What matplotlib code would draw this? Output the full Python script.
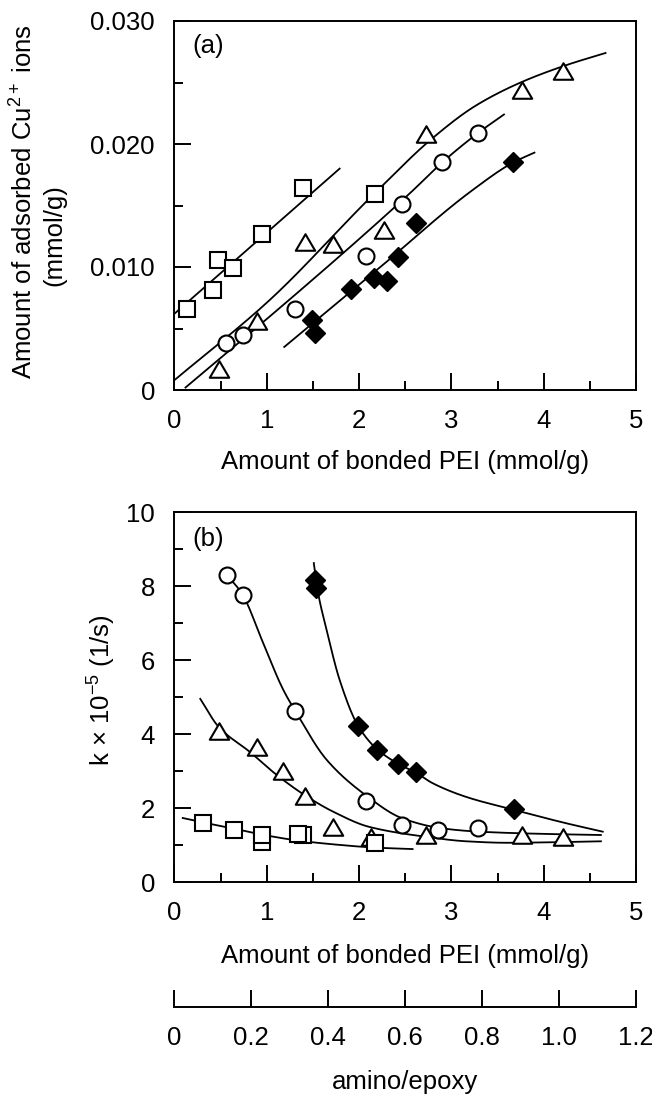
import numpy as np
import matplotlib
matplotlib.use("Agg")
import matplotlib.pyplot as plt
from matplotlib.path import Path
from matplotlib.ticker import MultipleLocator, FixedLocator

plt.rcParams['font.family'] = ['Liberation Sans', 'DejaVu Sans']
plt.rcParams['mathtext.fontset'] = 'custom'
plt.rcParams['mathtext.rm'] = 'Liberation Sans'
plt.rcParams['mathtext.it'] = 'Liberation Sans:italic'
plt.rcParams['mathtext.bf'] = 'Liberation Sans:bold'

# ---------------- (a) adsorbed Cu2+ vs bonded PEI ----------------
a_sq_x = [0.14, 0.42, 0.47, 0.64, 0.95, 1.39, 2.17]
a_sq_y = [0.0066, 0.0081, 0.0106, 0.0099, 0.0127, 0.0164, 0.0159]
a_tri_x = [0.48, 0.89, 1.42, 1.72, 2.27, 2.72, 3.76, 4.21]
a_tri_y = [0.0017, 0.0056, 0.0120, 0.0119, 0.0130, 0.0208, 0.0244, 0.0259]
a_cir_x = [0.56, 0.74, 1.31, 2.07, 2.46, 2.90, 3.29]
a_cir_y = [0.0038, 0.0045, 0.0066, 0.0109, 0.0151, 0.0185, 0.0209]
a_dia_x = [1.49, 1.52, 1.91, 2.16, 2.30, 2.42, 2.62, 3.67]
a_dia_y = [0.0057, 0.0046, 0.0082, 0.0091, 0.0089, 0.0108, 0.0136, 0.0185]

# fitted curves (knots)
a_fit_sq_x = [0.0, 1.79]
a_fit_sq_y = [0.0062, 0.0180]
a_fit_tri_x = [0.0, 1.03, 2.17, 2.80, 3.26, 3.75, 4.24, 4.67]
a_fit_tri_y = [0.0008, 0.0073, 0.0160, 0.0205, 0.0231, 0.0250, 0.0264, 0.0274]
a_fit_cir_x = [0.12, 1.27, 2.11, 2.58, 2.90, 3.29, 3.57]
a_fit_cir_y = [0.0002, 0.0075, 0.0130, 0.0162, 0.0185, 0.0209, 0.0224]
a_fit_dia_x = [1.19, 2.20, 3.22, 3.67, 3.90]
a_fit_dia_y = [0.0035, 0.0098, 0.0162, 0.0185, 0.0193]

# ---------------- (b) rate constant vs bonded PEI ----------------
b_sq_x = [0.31, 0.65, 0.95, 0.95, 1.39, 1.34, 2.17]
b_sq_y = [1.59, 1.40, 1.08, 1.27, 1.27, 1.30, 1.05]
b_tri_x = [0.48, 0.89, 1.18, 1.41, 1.72, 2.13, 2.73, 3.76, 4.21]
b_tri_y = [4.08, 3.65, 3.00, 2.32, 1.49, 1.22, 1.27, 1.27, 1.21]
b_cir_x = [0.57, 0.74, 1.31, 2.07, 2.46, 2.85, 3.29]
b_cir_y = [8.30, 7.76, 4.62, 2.19, 1.54, 1.40, 1.46]
b_dia_x = [1.52, 1.53, 1.99, 2.19, 2.42, 2.62, 3.68]
b_dia_y = [8.15, 7.95, 4.22, 3.57, 3.19, 2.97, 1.97]

b_fit_sq_x = [0.09, 0.31, 0.65, 0.95, 1.34, 1.80, 2.17, 2.58]
b_fit_sq_y = [1.73, 1.61, 1.44, 1.28, 1.12, 1.00, 0.93, 0.89]
b_fit_tri_x = [0.28, 0.48, 0.82, 1.11, 1.41, 1.72, 2.11, 2.73, 3.16, 3.60, 4.00, 4.62]
b_fit_tri_y = [4.95, 4.19, 3.51, 2.89, 2.35, 1.90, 1.49, 1.22, 1.10, 1.06, 1.07, 1.10]
b_fit_cir_x = [0.57, 0.74, 0.95, 1.18, 1.31, 1.65, 2.07, 2.47, 2.90, 3.30, 4.00, 4.62]
b_fit_cir_y = [8.30, 7.76, 6.53, 5.19, 4.62, 3.30, 2.35, 1.72, 1.45, 1.36, 1.30, 1.27]
b_fit_dia_x = [1.51, 1.55, 1.65, 1.79, 1.99, 2.19, 2.42, 2.62, 2.79, 3.16, 3.68, 4.24, 4.64]
b_fit_dia_y = [8.62, 7.90, 6.80, 5.46, 4.22, 3.60, 3.20, 2.95, 2.68, 2.30, 1.95, 1.59, 1.36]

# secondary scale
ratio_ticks = [0, 0.2, 0.4, 0.6, 0.8, 1.0, 1.2]
ratio_labels = ['0', '0.2', '0.4', '0.6', '0.8', '1.0', '1.2']


def smooth(xk, yk, n=300):
    """Monotone piecewise-cubic Hermite curve through the knots."""
    xk = np.asarray(xk, float)
    yk = np.asarray(yk, float)
    if len(xk) < 3:
        return xk, yk
    h = np.diff(xk)
    d = np.diff(yk) / h
    m = np.zeros_like(yk)
    m[0], m[-1] = d[0], d[-1]
    for k in range(1, len(xk) - 1):
        if d[k - 1] * d[k] > 0:
            w1 = 2 * h[k] + h[k - 1]
            w2 = h[k] + 2 * h[k - 1]
            m[k] = (w1 + w2) / (w1 / d[k - 1] + w2 / d[k])
    xs = np.linspace(xk[0], xk[-1], n)
    idx = np.clip(np.searchsorted(xk, xs) - 1, 0, len(xk) - 2)
    t = (xs - xk[idx]) / h[idx]
    h00 = 2 * t**3 - 3 * t**2 + 1
    h10 = t**3 - 2 * t**2 + t
    h01 = -2 * t**3 + 3 * t**2
    h11 = t**3 - t**2
    ys = (h00 * yk[idx] + h10 * h[idx] * m[idx]
          + h01 * yk[idx + 1] + h11 * h[idx] * m[idx + 1])
    return xs, ys


W, H = 652, 1094
fig = plt.figure(figsize=(W / 100, H / 100), dpi=100)

L, R = 174.4, 636.0
ax_a = fig.add_axes([L / W, 1 - 390 / H, (R - L) / W, (390 - 21) / H])
ax_b = fig.add_axes([L / W, 1 - 882 / H, (R - L) / W, (882 - 512) / H])
ax_c = fig.add_axes([L / W, 1 - 1007 / H, (R - L) / W, 0.0005])

FS = 18.5
LW_CURVE = 1.3
# wide, slightly flattened open triangle
tri_marker = Path([(-1, -0.85), (1, -0.85), (0, 0.85), (-1, -0.85)],
                  [Path.MOVETO, Path.LINETO, Path.LINETO, Path.CLOSEPOLY])
open_kw = dict(linestyle='none', mfc='white', mec='black', mew=1.5)


def style_axis(ax):
    for s in ax.spines.values():
        s.set_linewidth(1.4)
    ax.tick_params(which='both', direction='in', top=False, right=False,
                   labelsize=FS, pad=14, width=1.4)
    ax.tick_params(which='major', length=12.5)
    ax.tick_params(which='minor', length=6.5)


def draw_markers(ax, sq, tri, cir, dia):
    ax.plot(*tri, marker=tri_marker, ms=14, zorder=3, **open_kw)
    ax.plot(*cir, marker='o', ms=11.5, zorder=4, **open_kw)
    ax.plot(*sq, marker='s', ms=11, zorder=5, **open_kw)
    ax.plot(*dia, linestyle='none', marker='D', ms=10.5, mfc='black',
            mec='black', mew=1, zorder=6)


# ---- panel (a)
for xk, yk in [(a_fit_sq_x, a_fit_sq_y), (a_fit_tri_x, a_fit_tri_y),
               (a_fit_cir_x, a_fit_cir_y), (a_fit_dia_x, a_fit_dia_y)]:
    ax_a.plot(*smooth(xk, yk), color='black', lw=LW_CURVE, zorder=2)
draw_markers(ax_a, (a_sq_x, a_sq_y), (a_tri_x, a_tri_y),
             (a_cir_x, a_cir_y), (a_dia_x, a_dia_y))
ax_a.set_xlim(0, 5)
ax_a.set_ylim(0, 0.030)
ax_a.xaxis.set_major_locator(MultipleLocator(1))
ax_a.xaxis.set_minor_locator(MultipleLocator(0.5))
ax_a.yaxis.set_major_locator(FixedLocator([0, 0.010, 0.020, 0.030]))
ax_a.yaxis.set_minor_locator(MultipleLocator(0.005))
ax_a.set_yticklabels(['0', '0.010', '0.020', '0.030'])
style_axis(ax_a)
ax_a.set_xlabel('Amount of bonded PEI (mmol/g)', fontsize=FS, labelpad=12)
ax_a.text(0.04, 0.932, '(a)', transform=ax_a.transAxes, fontsize=FS,
          ha='left', va='center')
fig.text(24 / W, 1 - 202 / H, 'Amount of adsorbed Cu$^{2+}$ ions',
         rotation=90, ha='center', va='center', fontsize=FS)
fig.text(54 / W, 1 - 235 / H, '(mmol/g)', rotation=90, ha='center',
         va='center', fontsize=FS)

# ---- panel (b)
for xk, yk in [(b_fit_sq_x, b_fit_sq_y), (b_fit_tri_x, b_fit_tri_y),
               (b_fit_cir_x, b_fit_cir_y), (b_fit_dia_x, b_fit_dia_y)]:
    ax_b.plot(*smooth(xk, yk), color='black', lw=LW_CURVE, zorder=2)
draw_markers(ax_b, (b_sq_x, b_sq_y), (b_tri_x, b_tri_y),
             (b_cir_x, b_cir_y), (b_dia_x, b_dia_y))
ax_b.set_xlim(0, 5)
ax_b.set_ylim(0, 10)
ax_b.xaxis.set_major_locator(MultipleLocator(1))
ax_b.xaxis.set_minor_locator(MultipleLocator(0.5))
ax_b.yaxis.set_major_locator(MultipleLocator(2))
ax_b.yaxis.set_minor_locator(MultipleLocator(1))
style_axis(ax_b)
ax_b.set_xlabel('Amount of bonded PEI (mmol/g)', fontsize=FS, labelpad=13)
ax_b.text(0.04, 0.927, '(b)', transform=ax_b.transAxes, fontsize=FS,
          ha='left', va='center')
fig.text(102 / W, 1 - 690 / H, r'k $\times$ 10$^{-5}$ (1/s)', rotation=90,
         ha='center', va='center', fontsize=FS)

# ---- amino/epoxy scale
ax_c.set_facecolor('none')
for side in ('top', 'left', 'right'):
    ax_c.spines[side].set_visible(False)
ax_c.set_xlim(0, 1.2)
ax_c.set_yticks([])
ax_c.set_xticks(ratio_ticks)
ax_c.set_xticklabels(ratio_labels)
style_axis(ax_c)
ax_c.set_xlabel('amino/epoxy', fontsize=FS, labelpad=14)

fig.savefig('out.png', dpi=100)
